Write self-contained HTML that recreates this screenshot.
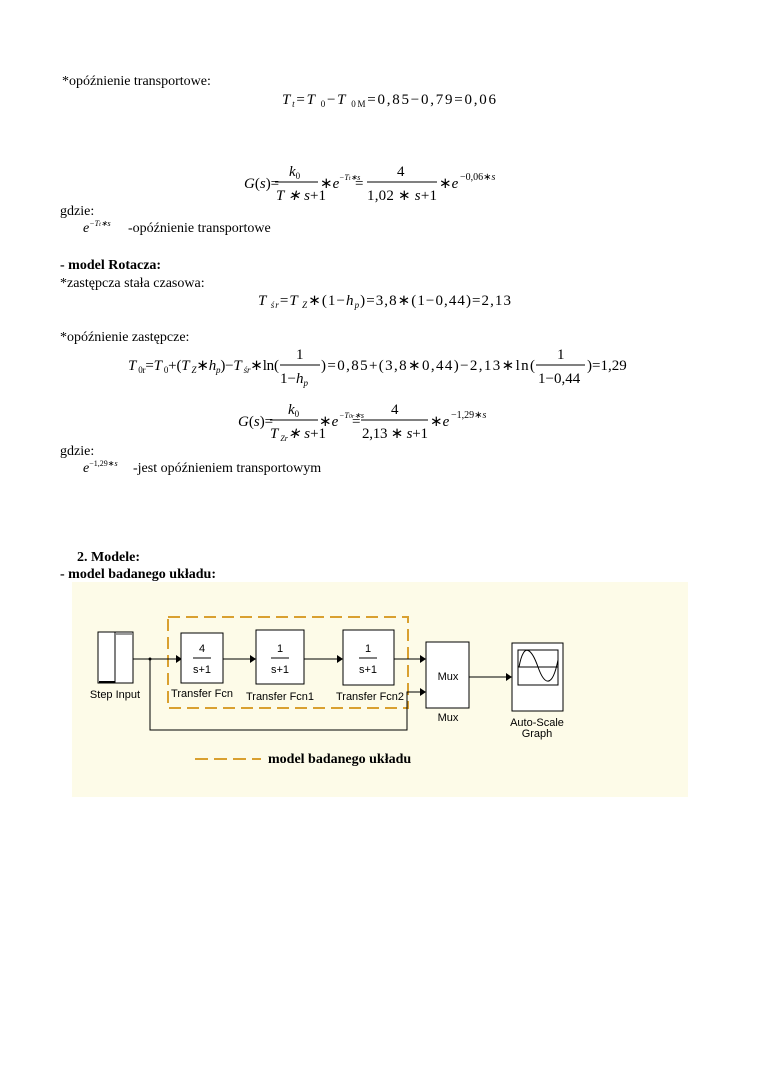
<!DOCTYPE html>
<html><head><meta charset="utf-8"><style>
html,body{margin:0;padding:0;background:#fff;}
svg{display:block}
.s{font-family:"Liberation Serif",serif;font-size:14px;fill:#000}
.i{font-style:italic}
.b{font-weight:bold}
.a{font-family:"Liberation Sans",sans-serif;font-size:11px;fill:#000}
</style></head><body>
<svg width="760" height="1075" viewBox="0 0 760 1075" xmlns="http://www.w3.org/2000/svg">
<text class="s" x="62" y="85">*opóźnienie transportowe:</text>
<text class="s" x="282" y="104" style="font-size:15px" textLength="214" lengthAdjust="spacing"><tspan class="i">T</tspan><tspan font-size="9" dy="3" class="i">t</tspan><tspan dy="-3">=</tspan><tspan class="i">T</tspan><tspan font-size="9" dy="3"> 0</tspan><tspan dy="-3">−</tspan><tspan class="i">T</tspan><tspan font-size="9" dy="3"> 0M</tspan><tspan dy="-3">=0,85−0,79=0,06</tspan></text>

<text class="s" x="244" y="188" style="font-size:15px"><tspan class="i">G</tspan>(<tspan class="i">s</tspan>)=</text>
<text class="s i" x="289" y="176" style="font-size:15px">k<tspan font-size="9" dy="3" font-style="normal">0</tspan></text>
<line x1="275" y1="182" x2="318" y2="182" stroke="#000" stroke-width="1"/>
<text class="s i" x="276" y="200" style="font-size:15px">T ∗ s<tspan font-style="normal">+1</tspan></text>
<text class="s" x="320" y="188" style="font-size:15px">∗<tspan class="i">e</tspan></text>
<text class="s i" x="339" y="180" style="font-size:8px">−T<tspan font-size="6">t</tspan>∗s</text>
<text class="s" x="355" y="188" style="font-size:15px">=</text>
<text class="s" x="397" y="176" style="font-size:15px">4</text>
<line x1="367" y1="182" x2="437" y2="182" stroke="#000" stroke-width="1"/>
<text class="s" x="367" y="200" style="font-size:15px" textLength="70" lengthAdjust="spacing">1,02 ∗ <tspan class="i">s</tspan>+1</text>
<text class="s" x="439" y="188" style="font-size:15px">∗<tspan class="i">e</tspan></text>
<text class="s" x="460" y="180" style="font-size:10px">−0,06∗<tspan class="i">s</tspan></text>

<text class="s" x="60" y="215">gdzie:</text>
<text class="s i" x="83" y="232">e<tspan font-size="8" dy="-6">−T<tspan font-size="6">t</tspan>∗s</tspan></text>
<text class="s" x="128" y="232">-opóźnienie transportowe</text>

<text class="s b" x="60" y="269">- model Rotacza:</text>
<text class="s" x="60" y="287">*zastępcza stała czasowa:</text>
<text class="s" x="258" y="305" style="font-size:15px" textLength="253" lengthAdjust="spacing"><tspan class="i">T</tspan><tspan font-size="9" dy="3" class="i"> śr</tspan><tspan dy="-3">=</tspan><tspan class="i">T</tspan><tspan font-size="9" dy="3" class="i"> Z</tspan><tspan dy="-3">∗(1−</tspan><tspan class="i">h</tspan><tspan font-size="9" dy="3" class="i">p</tspan><tspan dy="-3">)=3,8∗(1−0,44)=2,13</tspan></text>

<text class="s" x="60" y="341">*opóźnienie zastępcze:</text>
<text class="s" x="128" y="370" style="font-size:15px" textLength="151" lengthAdjust="spacing"><tspan class="i">T</tspan><tspan font-size="9" dy="3"> 0r</tspan><tspan dy="-3">=</tspan><tspan class="i">T</tspan><tspan font-size="9" dy="3"> 0</tspan><tspan dy="-3">+(</tspan><tspan class="i">T</tspan><tspan font-size="9" dy="3" class="i"> Z</tspan><tspan dy="-3">∗</tspan><tspan class="i">h</tspan><tspan font-size="9" dy="3" class="i">p</tspan><tspan dy="-3">)−</tspan><tspan class="i">T</tspan><tspan font-size="9" dy="3" class="i"> śr</tspan><tspan dy="-3">∗ln(</tspan></text>
<text class="s" x="296" y="359" style="font-size:15px">1</text>
<line x1="280" y1="365" x2="320" y2="365" stroke="#000"/>
<text class="s" x="280" y="383" style="font-size:15px">1−<tspan class="i">h</tspan><tspan font-size="9" dy="3" class="i">p</tspan></text>
<text class="s" x="321" y="370" style="font-size:15px" textLength="214" lengthAdjust="spacing">)=0,85+(3,8∗0,44)−2,13∗ln(</text>
<text class="s" x="557" y="359" style="font-size:15px">1</text>
<line x1="536" y1="365" x2="585" y2="365" stroke="#000"/>
<text class="s" x="538" y="383" style="font-size:15px">1−0,44</text>
<text class="s" x="587" y="370" style="font-size:15px">)=1,29</text>

<text class="s" x="238" y="426" style="font-size:15px"><tspan class="i">G</tspan>(<tspan class="i">s</tspan>)=</text>
<text class="s i" x="288" y="414" style="font-size:15px">k<tspan font-size="9" dy="3" font-style="normal">0</tspan></text>
<line x1="270" y1="420" x2="318" y2="420" stroke="#000"/>
<text class="s i" x="270" y="438" style="font-size:15px">T<tspan font-size="8" dy="3"> Zr</tspan><tspan dy="-3">∗ s</tspan><tspan font-style="normal">+1</tspan></text>
<text class="s" x="319" y="426" style="font-size:15px">∗<tspan class="i">e</tspan></text>
<text class="s i" x="339" y="418" style="font-size:8px">−T<tspan font-size="6">0r</tspan>∗s</text>
<text class="s" x="352" y="426" style="font-size:15px">=</text>
<text class="s" x="391" y="414" style="font-size:15px">4</text>
<line x1="361" y1="420" x2="428" y2="420" stroke="#000"/>
<text class="s" x="362" y="438" style="font-size:15px" textLength="66" lengthAdjust="spacing">2,13 ∗ <tspan class="i">s</tspan>+1</text>
<text class="s" x="430" y="426" style="font-size:15px">∗<tspan class="i">e</tspan></text>
<text class="s" x="451" y="418" style="font-size:10px">−1,29∗<tspan class="i">s</tspan></text>

<text class="s" x="60" y="455">gdzie:</text>
<text class="s i" x="83" y="472">e<tspan font-size="8" dy="-6" font-style="normal">−1,29∗<tspan class="i">s</tspan></tspan></text>
<text class="s" x="133" y="472">-jest opóźnieniem transportowym</text>

<text class="s b" x="77" y="561">2. Modele:</text>
<text class="s b" x="60" y="578">- model badanego układu:</text>

<rect x="72" y="582" width="616" height="215" fill="#fdfbe8"/>
<rect x="168" y="617" width="240" height="91" fill="none" stroke="#d9a030" stroke-width="2" stroke-dasharray="12,6"/>
<rect x="98" y="632" width="35" height="51" fill="#fff" stroke="#000"/>
<line x1="115" y1="632" x2="115" y2="683" stroke="#000"/>
<line x1="116" y1="634" x2="132" y2="634" stroke="#999" stroke-width="2"/>
<line x1="99" y1="682" x2="115" y2="682" stroke="#000" stroke-width="2"/>
<text class="a" x="115" y="698" text-anchor="middle">Step Input</text>
<g stroke="#000" fill="none">
<line x1="133" y1="659" x2="176" y2="659"/>
<polyline points="150,659 150,730 407,730 407,692 421,692"/>
<line x1="223" y1="659" x2="251" y2="659"/>
<line x1="304" y1="659" x2="338" y2="659"/>
<line x1="394" y1="659" x2="421" y2="659"/>
<line x1="469" y1="677" x2="507" y2="677"/>
</g>
<circle cx="150" cy="659" r="1.5" fill="#000"/>
<g fill="#000">
<polygon points="176,655 182,659 176,663"/>
<polygon points="250,655 256,659 250,663"/>
<polygon points="337,655 343,659 337,663"/>
<polygon points="420,655 426,659 420,663"/>
<polygon points="420,688 426,692 420,696"/>
<polygon points="506,673 512,677 506,681"/>
</g>
<g fill="#fff" stroke="#000">
<rect x="181" y="633" width="42" height="50"/>
<rect x="256" y="630" width="48" height="54"/>
<rect x="343" y="630" width="51" height="55"/>
<rect x="426" y="642" width="43" height="66"/>
<rect x="512" y="643" width="51" height="68"/>
<rect x="518" y="650" width="40" height="35"/>
</g>
<g stroke="#000">
<line x1="193" y1="658" x2="211" y2="658"/>
<line x1="271" y1="658" x2="289" y2="658"/>
<line x1="359" y1="658" x2="377" y2="658"/>
<line x1="518" y1="667" x2="558" y2="667"/>
</g>
<path d="M519,667 C524,640 532,650 538,667 C544,684 552,690 558,660" fill="none" stroke="#000"/>
<g class="a" text-anchor="middle">
<text x="202" y="652">4</text><text x="202" y="673">s+1</text>
<text x="280" y="652">1</text><text x="280" y="673">s+1</text>
<text x="368" y="652">1</text><text x="368" y="673">s+1</text>
<text x="202" y="697">Transfer Fcn</text>
<text x="280" y="700">Transfer Fcn1</text>
<text x="370" y="700">Transfer Fcn2</text>
<text x="448" y="680">Mux</text>
<text x="448" y="721">Mux</text>
<text x="537" y="726">Auto-Scale</text>
<text x="537" y="737">Graph</text>
</g>
<line x1="195" y1="759" x2="261" y2="759" stroke="#d9a030" stroke-width="2" stroke-dasharray="13,6"/>
<text class="s b" x="268" y="763" style="font-size:14px">model badanego układu</text>
</svg>
</body></html>
